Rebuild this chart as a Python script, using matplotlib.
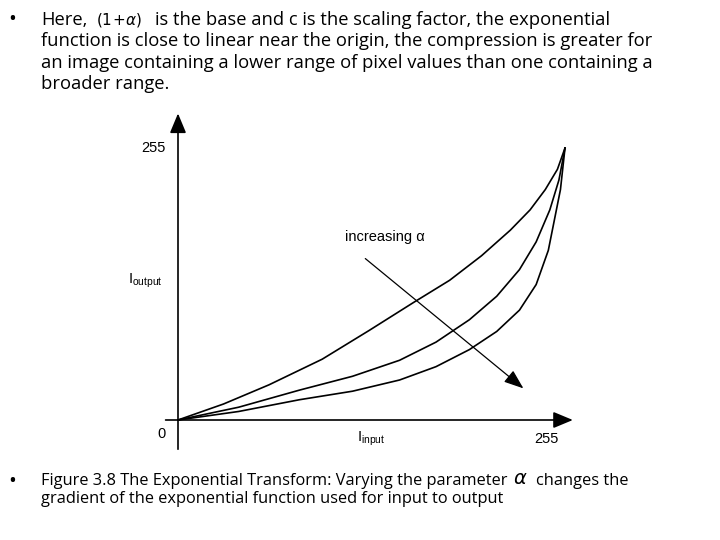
import matplotlib
matplotlib.use("Agg")
import matplotlib.pyplot as plt

# curve samples (input, output)
x_top = [0, 30, 60, 95, 126, 155, 179, 200, 219, 232, 242, 250, 255]
y_top = [0, 15, 33, 57, 84, 110, 131, 154, 178, 197, 216, 235, 255]
x_mid = [0, 40, 80, 115, 146, 170, 192, 210, 225, 236, 245, 251, 255]
y_mid = [0, 12, 28, 41, 56, 73, 94, 116, 141, 167, 197, 225, 255]
x_low = [0, 40, 80, 115, 146, 170, 192, 210, 225, 236, 244, 252, 255]
y_low = [0, 8, 19, 27, 37.5, 50, 66, 83, 103, 127, 159, 216, 255]

fig = plt.figure(figsize=(7.2, 5.4), dpi=100)
fig.patch.set_facecolor("white")
W, H = 720, 540
ox, oy, ex, ey = 178, 420, 565, 148
ax = fig.add_axes([ox / W, 1 - oy / H, (ex - ox) / W, (oy - ey) / H])
ax.set_xlim(0, 255)
ax.set_ylim(0, 255)
ax.axis("off")
for xs, ys in [(x_top, y_top), (x_mid, y_mid), (x_low, y_low)]:
    ax.plot(xs, ys, color="black", lw=1.2, clip_on=False)

ax.annotate("", xy=(0, 290), xytext=(0, -30), annotation_clip=False,
            arrowprops=dict(arrowstyle="-|>,head_width=0.5,head_length=1.2", color="black", lw=1.2))
ax.annotate("", xy=(262, 0), xytext=(-10, 0), annotation_clip=False,
            arrowprops=dict(arrowstyle="-|>,head_width=0.5,head_length=1.2", color="black", lw=1.2))
ax.annotate("", xy=(229, 28), xytext=(122, 153), annotation_clip=False,
            arrowprops=dict(arrowstyle="-|>,head_width=0.45,head_length=1.2", color="black", lw=0.9))

af = "Liberation Sans"
ax.text(110, 165, "increasing α", fontsize=10.5, family=af, ha="left", va="bottom")
ax.text(-8, 255, "255", fontsize=10.5, family=af, ha="right", va="center")
ax.text(-33, 130, r"$\mathregular{I_{output}}$", fontsize=10.5, family=af, ha="left", va="center")
ax.text(-8, -13, "0", fontsize=10.5, family=af, ha="right", va="center")
ax.text(118, -18, r"$\mathregular{I_{input}}$", fontsize=10.5, family=af, ha="left", va="center")
ax.text(235, -18, "255", fontsize=10.5, family=af, ha="left", va="center")

tf = "Open Sans"
fs_top = 13.2
fig.text(8 / W, 1 - 20 / H, "•", fontsize=15, family=tf, va="center")
fig.text(41 / W, 1 - 20 / H, "Here,", fontsize=fs_top, family=tf, va="center")
fig.text(96 / W, 1 - 20 / H, r"$(1\!+\!\alpha)$", fontsize=11, va="center")
fig.text(155 / W, 1 - 20 / H, "is the base and c is the scaling factor, the exponential",
         fontsize=fs_top, family=tf, va="center")
lines = ["function is close to linear near the origin, the compression is greater for",
         "an image containing a lower range of pixel values than one containing a",
         "broader range."]
for i, l in enumerate(lines):
    fig.text(41 / W, 1 - (41 + i * 21.5) / H, l, fontsize=fs_top, family=tf, va="center")

fs_b = 11.8
fig.text(8 / W, 1 - 481 / H, "•", fontsize=15, family=tf, va="center")
fig.text(41 / W, 1 - 481 / H, "Figure 3.8 The Exponential Transform: Varying the parameter",
         fontsize=fs_b, family=tf, va="center")
fig.text(513 / W, 1 - 479 / H, r"$\alpha$", fontsize=14, va="center")
fig.text(536 / W, 1 - 481 / H, "changes the", fontsize=fs_b, family=tf, va="center")
fig.text(41 / W, 1 - 499 / H, "gradient of the exponential function used for input to output",
         fontsize=fs_b, family=tf, va="center")

fig.savefig("out.png", dpi=100, facecolor="white")
